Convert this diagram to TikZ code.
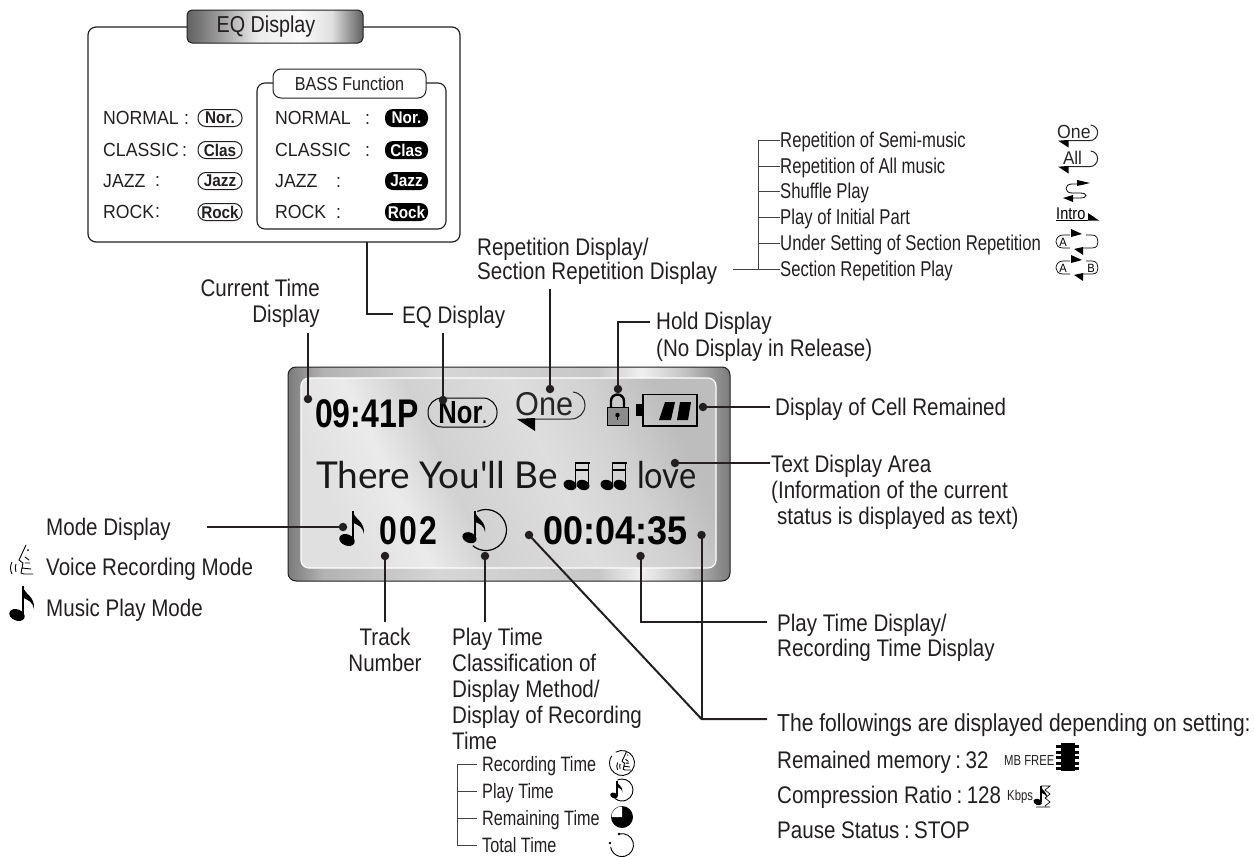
\documentclass[tikz,border=0pt]{standalone}
\usepackage{fontspec}
\setmainfont[FakeStretch=0.857]{Liberation Sans}
\newfontfamily\widefam[FakeStretch=0.93]{Liberation Sans}
\newfontfamily\narrowfam[FakeStretch=0.78]{Liberation Sans}
\newfontfamily\lcdA[FakeStretch=0.8]{Liberation Sans}
\newfontfamily\lcdB[FakeStretch=0.9]{Liberation Sans}
\newfontfamily\handfam[FakeStretch=1.0]{Lato}
\newfontfamily\handfamB[FakeStretch=0.88]{Lato}
\newcommand\fs[2]{\fontsize{#1}{#2}\selectfont}
\definecolor{ink}{HTML}{231F20}
\pgfdeclarehorizontalshading{outerlcd}{100bp}{color(0bp)=(black!50);color(25bp)=(black!52);color(29bp)=(black!30);color(42bp)=(black!16);color(60bp)=(black!22);color(65bp)=(black!6);color(70bp)=(black!24);color(75bp)=(black!52);color(100bp)=(black!52)}
\pgfdeclarehorizontalshading{innerlcd}{100bp}{color(0bp)=(black!12);color(25bp)=(black!12);color(34bp)=(black!8);color(42bp)=(black!18);color(56bp)=(black!13);color(66bp)=(black!18);color(75bp)=(black!26);color(100bp)=(black!26)}
\pgfdeclarehorizontalshading{tabgrad}{100bp}{color(0bp)=(black!60);color(25bp)=(black!62);color(33bp)=(black!42);color(45bp)=(black!8);color(57bp)=(black!2);color(66bp)=(black!12);color(75bp)=(black!62);color(100bp)=(black!62)}
\tikzset{
  lab/.style={inner sep=0pt,anchor=west,text=ink,text height=17.3pt,text depth=0pt,font=\fs{24}{26}},
  smalllab/.style={inner sep=0pt,anchor=west,text=ink,text height=15.4pt,text depth=0pt,font=\narrowfam\fs{21.4}{22}},
  lowlab/.style={inner sep=0pt,anchor=west,text=ink,text height=15pt,text depth=0pt,font=\narrowfam\fs{20.8}{22}},
  multi/.style={inner sep=0pt,anchor=north west,align=left,text=ink,font=\fs{24}{26}},
  row/.style={inner sep=0pt,anchor=west,text=ink,text height=13.7pt,text depth=0pt,font=\widefam\fs{19}{22}},
  tinylab/.style={inner sep=0pt,anchor=west,text=ink,text height=10pt,text depth=0pt,font=\narrowfam\fs{14.5}{14}},
  lcdbig/.style={inner sep=0pt,anchor=west,text=black,text height=28.8pt,text depth=0pt},
  hand/.style={inner sep=0pt,anchor=west,text=black!90,text height=26.6pt,text depth=0pt},
  conn/.style={draw=ink,line width=2pt},
  tree/.style={draw=ink!85,line width=.9pt},
  dotn/.style={circle,fill=ink,inner sep=0pt,minimum size=8.5pt},
  wbadge/.style={draw=ink,line width=1pt,rounded corners=8pt,minimum width=44pt,minimum height=17pt,inner sep=0pt,text=ink,font=\lcdB\bfseries\fs{17}{17}},
  bbadge/.style={fill=black,rounded corners=8pt,minimum width=43pt,minimum height=18pt,inner sep=0pt,text=white,font=\lcdB\bfseries\fs{17}{17}},
  notepic/.pic={
    \fill[black,rotate around={-22:(-6,29)}] (-6,29) ellipse[x radius=8,y radius=5.6];
    \fill[black] (-1.3,0) rectangle (1.1,29);
    \fill[black] (-.5,0) .. controls (2,9) and (12,10) .. (11,23) .. controls (10,16) and (5,14) .. (.5,12) -- cycle;
  },
  voicepic/.pic={
    \draw[black,line width=.9pt,line cap=round] (7,0) -- (0,15) -- (4,18) -- (3,23) -- (12,24) (5,29) -- (14,29) (3,23) -- (2,28) -- (5,29) (6,12) -- (10,15) (6,18) -- (11,18);
    \fill[black] (9,5) circle[radius=1];
    \draw[black,line width=.9pt] (-7,17) .. controls (-9,21) and (-9,25) .. (-7,29) (-3,19) .. controls (-4,21) and (-4,24) .. (-3,27);
  }
}
\newcommand\repeaticon[6]{% x,y,scale,font size,text x,text
  \begin{scope}[shift={(#1,#2)},scale=#3]
    \node[inner sep=0pt,anchor=base west,text=black!85,font=\widefam\fs{#4}{#4}] at (#5,23) {#6};
    \draw[black!85,line width=1pt] (58,0) .. controls (66,1) and (70,7) .. (70,13) .. controls (70,21) and (64,27) .. (56,27) -- (12,27);
    \fill[black] (2,27) -- (20,26) -- (20,39) -- cycle;
  \end{scope}}
\newcommand\abicon[2]{% y centre, extra
  \begin{scope}[shift={(1056,#1)}]
    \draw[black,line width=.7pt] (14,-7) -- (7,-7) .. controls (2,-7) and (0,-3) .. (0,0) .. controls (0,3) and (2,6) .. (7,6) -- (14,6);
    \node[inner sep=0pt,text=black,font=\widefam\fs{12}{12}] at (7,0) {A};
    \draw[black,line width=.7pt] (30,-7) -- (36,-7) .. controls (41,-7) and (42,-3) .. (42,0) .. controls (42,3) and (41,6) .. (36,6) -- (26,6);
    #2
    \fill[black] (15,-13) -- (26,-8) -- (15,-5) -- cycle;
    \fill[black] (18,7) -- (27,5) -- (27,13) -- cycle;
  \end{scope}}
\begin{document}
\begin{tikzpicture}[x=1pt,y=-1pt]
\useasboundingbox (0,0) rectangle (1254,857);
% ---------- EQ box
\draw[draw=ink,line width=1.2pt,rounded corners=8pt] (88,27) rectangle (460,242);
\node[draw=ink,line width=1pt,rounded corners=5pt,shading=tabgrad,shading angle=0,minimum width=176pt,minimum height=33pt,inner sep=0pt,text=ink,font=\fs{23}{26}] (eqtitle) at (275,26.5) {\hspace*{-18pt}EQ Display};
\draw[draw=ink,line width=1.1pt,rounded corners=8pt] (257,83) rectangle (446,229);
\node[draw=ink,fill=white,line width=1pt,rounded corners=8pt,minimum width=153pt,minimum height=29pt,inner sep=0pt,text=ink,font=\fs{18.8}{22}] (basstitle) at (349.5,83.5) {BASS Function};
\node[row] (ln) at (103,118) {NORMAL};\node[row] (lnc) at (184,118) {:};
\node[row] (lc) at (103,150) {CLASSIC};\node[row] (lcc) at (182,150) {:};
\node[row] (lj) at (103,181) {JAZZ};\node[row] (ljc) at (155,180) {:};
\node[row] (lr) at (103,212) {ROCK};\node[row] (lrc) at (155,211) {:};
\node[wbadge] (b1) at (220,118) {Nor.};
\node[wbadge] (b2) at (220,150) {Clas};
\node[wbadge] (b3) at (220,181) {Jazz};
\node[wbadge] (b4) at (220,212) {Rock};
\node[row] (rn) at (275,118) {NORMAL};\node[row] (rnc) at (365,118) {:};
\node[row] (rc) at (275,150) {CLASSIC};\node[row] (rcc) at (365,150) {:};
\node[row] (rj) at (275,181) {JAZZ};\node[row] (rjc) at (336,181) {:};
\node[row] (rr) at (275,212) {ROCK};\node[row] (rrc) at (336,212) {:};
\node[bbadge] (k1) at (406.5,118) {Nor.};
\node[bbadge] (k2) at (406.5,150) {Clas};
\node[bbadge] (k3) at (406.5,181) {Jazz};
\node[bbadge] (k4) at (406.5,212) {Rock};
% ---------- LCD
\path[draw=ink,line width=1pt,rounded corners=8pt,shading=outerlcd] (288,367) rectangle (730,581);
\path[draw=white,line width=1.2pt,rounded corners=8pt,shading=innerlcd,shading angle=25] (301,378) rectangle (716,568);
\node[lcdbig,font=\lcdA\bfseries\fs{40}{40}] (clock) at (315,413) {09:41P};
\node[draw=black,line width=1pt,rounded corners=14pt,minimum width=69pt,minimum height=29pt,inner sep=0pt,font=\lcdA\bfseries\fs{32}{32}] (norlcd) at (462.5,412.5) {Nor\fs{18}{18}.};
\repeaticon{515}{392}{1}{33}{0}{One}
% lock
\draw[black,line width=2.4pt] (611,408) -- (611,401) arc[start angle=180,end angle=360,radius=6.5] -- (624,408);
\draw[black,line width=1pt,fill=black!45] (607,407) rectangle (628,425);
\fill[black] (617.5,415) circle[radius=2.2];\fill[black] (616.7,415) rectangle (618.3,420);
% battery
\draw[black,line width=1.6pt] (643,394.5) rectangle (697,426);
\fill[black] (636,404) rectangle (643,416);
\fill[black] (665,402) -- (675,402) -- (671,420) -- (659,420) -- cycle;
\fill[black] (680,402) -- (691,402) -- (688,420) -- (677,420) -- cycle;
\node[hand,font=\handfam\fs{37}{37}] (song1) at (316,475) {There You'll Be};
\node[hand,font=\handfamB\fs{37}{37}] (song2) at (637,475) {love};
\foreach \dx in {0,37}{
\begin{scope}[xshift=\dx pt]
  \fill[black,rotate around={-20:(570,485)}] (570,485) ellipse[x radius=6.6,y radius=5];
  \fill[black,rotate around={-20:(583,485)}] (583,485) ellipse[x radius=6.6,y radius=5];
  \draw[black,line width=1.3pt] (575.5,485) -- (575.5,462.5) -- (588.5,462.5) -- (588.5,485) (575.5,470) -- (588.5,470);
  \draw[black,line width=2pt] (574.5,463) -- (589.5,463);
\end{scope}}
\pic at (353,511) {notepic};
\node[lcdbig,font=\lcdA\bfseries\fs{40}{40}] (track) at (379,530) {\addfontfeature{LetterSpace=6}002};
\draw[black,line width=1.2pt] (486,530) ++(-115:20.5) arc[start angle=-115,end angle=130,radius=20.5];
\pic[scale=.92] at (475,511) {notepic};
\node[lcdbig,font=\lcdB\bfseries\fs{40}{40}] (ptime) at (543,530) {00:04:35};
% ---------- dots
\node[dotn] (dTime) at (308,399) {};
\node[dotn] (dNor) at (443,400) {};
\node[dotn] (dRep) at (550,389) {};
\node[dotn] (dLock) at (618,389) {};
\node[dotn] (dCell) at (703,407) {};
\node[dotn] (dText) at (675,463) {};
\node[dotn] (dMode) at (343,527) {};
\node[dotn] (dTrack) at (385,556) {};
\node[dotn] (dMeth) at (485,556) {};
\node[dotn] (dComp) at (529,535) {};
\node[dotn] (dPlay) at (640.5,556) {};
\node[dotn] (dLast) at (701.5,535) {};
% ---------- labels
\node[multi,align=right,anchor=north east] (lTime) at (320,279) {Current Time\\Display};
\node[lab] (lEq) at (402,315) {EQ Display};
\node[multi,font=\fs{24}{24}] (lRep) at (477,238) {Repetition Display/\\Section Repetition Display};
\node[multi,font=\fs{24}{27}] (lHold) at (656,312) {Hold Display\\(No Display in Release)};
\node[lab] (lCell) at (775,407) {Display of Cell Remained};
\node[multi] (lText) at (771,455) {Text Display Area\\(Information of the current\\\hspace*{6pt}status is displayed as text)};
\node[lab] (lMode) at (46,527) {Mode Display};
\node[lab] (lVoice) at (46,567) {Voice Recording Mode};
\node[lab] (lMusic) at (46,608) {Music Play Mode};
\node[multi,align=center,anchor=north] (lTrack) at (385,628) {Track\\Number};
\node[multi] (lMeth) at (452,628) {Play Time\\Classification of\\Display Method/\\Display of Recording\\Time};
\node[multi,font=\fs{24}{25}] (lPlay) at (777,614) {Play Time Display/\\Recording Time Display};
\node[lab,text height=17.7pt,font=\fs{24.6}{26}] (lFoll) at (777,723) {The followings are displayed depending on setting:};
\node[lab] (lMem) at (777,760) {Remained memory\hspace{4.5pt}:\hspace{4.5pt}32};
\node[tinylab] (lMB) at (1004,760) {MB FREE};
\node[lab] (lRatio) at (777,795) {Compression Ratio\hspace{4.5pt}:\hspace{4.5pt}128};
\node[tinylab] (lKbps) at (1007,795) {Kbps};
\node[lab] (lPause) at (777,830) {Pause Status\hspace{4.5pt}:\hspace{4.5pt}STOP};
% upper right list
\node[smalllab] (r1) at (780,140) {Repetition of Semi-music};
\node[smalllab] (r2) at (780,166) {Repetition of All music};
\node[smalllab] (r3) at (780,191) {Shuffle Play};
\node[smalllab] (r4) at (780,217) {Play of Initial Part};
\node[smalllab] (r5) at (780,243) {Under Setting of Section Repetition};
\node[smalllab] (r6) at (780,269) {Section Repetition Play};
% lower list
\node[lowlab] (t1) at (482,764) {Recording Time};
\node[lowlab] (t2) at (482,791) {Play Time};
\node[lowlab] (t3) at (482,818) {Remaining Time};
\node[lowlab] (t4) at (482,845) {Total Time};
% ---------- connectors
\coordinate (eqa) at (367,242);\coordinate (eqb) at (367,314);
\draw[conn] (eqa) -- (eqb) -- (393,314);
\draw[conn] (dTime.center) -- (308,333);
\draw[conn] (dNor.center) -- (443,333);
\draw[conn] (dRep.center) -- (550,289);
\draw[conn] (dLock.center) -- (618,322) -- (650,322);
\draw[conn] (dCell.center) -- (770,407);
\draw[conn] (dText.center) -- (770,463);
\draw[conn] (dMode.center) -- (207,527);
\draw[conn] (dTrack.center) -- (385,622);
\draw[conn] (dMeth.center) -- (485,622);
\draw[conn] (dPlay.center) -- (640.5,622) -- (767,622);
\draw[conn] (dComp.center) -- (701.5,719) -- (767,719);
\draw[conn] (dLast.center) -- (701.5,719);
% trees
\coordinate (trunkR) at (758,269);
\draw[tree] (733,269) -- (trunkR);
\draw[tree] (r1.west) -- (758,140) -- (trunkR) -- (r6.west);
\draw[tree] (758,166) -- (r2.west);
\draw[tree] (758,191) -- (r3.west);
\draw[tree] (758,217) -- (r4.west);
\draw[tree] (758,243) -- (r5.west);
\draw[tree] ([xshift=-5pt]t1.west) -- (457,764) -- (457,845) -- ([xshift=-5pt]t4.west);
\draw[tree] (457,791) -- ([xshift=-5pt]t2.west);
\draw[tree] (457,818) -- ([xshift=-5pt]t3.west);
% ---------- icons right
\repeaticon{1057}{125}{.58}{19}{0}{One}
\repeaticon{1057}{151}{.58}{18.4}{10}{All}
% shuffle
\draw[black,line width=.8pt] (1084,184) -- (1072,184) .. controls (1064,184) and (1064,193) .. (1072,193) -- (1080,193) .. controls (1088,193) and (1088,198) .. (1080,198) -- (1068,198);
\fill[black] (1077,180) -- (1090,183) -- (1077,186) -- cycle;
\fill[black] (1063,198) -- (1073,195) -- (1073,202) -- cycle;
\node[inner sep=0pt,anchor=base west,text=black,font=\fs{17}{17}] (intro) at (1056,219) {Intro};
\draw[black,line width=.8pt] (1056,220.5) -- (1088,220.5);
\fill[black] (1088,220.5) -- (1099,220.5) -- (1088,213) -- cycle;
\abicon{242}{}
\abicon{268}{\node[inner sep=0pt,text=black,font=\widefam\fs{12}{12}] at (35,0) {B};}
% ---------- icons left & bottom
\pic at (23,586) {notepic};
\pic at (19,545) {voicepic};
\draw[black,line width=.9pt] (622,763) ++(-120:12.5) arc[start angle=-120,end angle=215,radius=12.5];
\pic[scale=.62] at (622,752) {voicepic};
\draw[black,line width=.9pt] (622,790) ++(-115:11) arc[start angle=-115,end angle=130,radius=11];
\pic[scale=.5] at (617,781) {notepic};
\fill[black] (622,817) circle[radius=11];
\fill[white] (622,817) -- (611.5,817) arc[start angle=180,end angle=270,radius=10.5] -- cycle;
\draw[black,line width=.9pt] (619,834) arc[start angle=-105,end angle=170,radius=11.5];
\fill[black] (619,834) circle[radius=1.4];\fill[black] (610,843) circle[radius=1.4];
% chip
\fill[black] (1061,743) rectangle (1075,771);
\foreach \yy in {745,750.5,756,761.5,767}{\fill[black] (1056,\yy) rectangle (1079,\yy+3);}
% compression note
\pic[scale=.55] at (1041,786) {notepic};
\draw[black,line width=.7pt] (1041,786) -- (1050,786) -- (1045,790) -- (1050,794) -- (1045,798) -- (1050,802) -- (1045,806) (1036,807) -- (1050,807);
\end{tikzpicture}
\end{document}
